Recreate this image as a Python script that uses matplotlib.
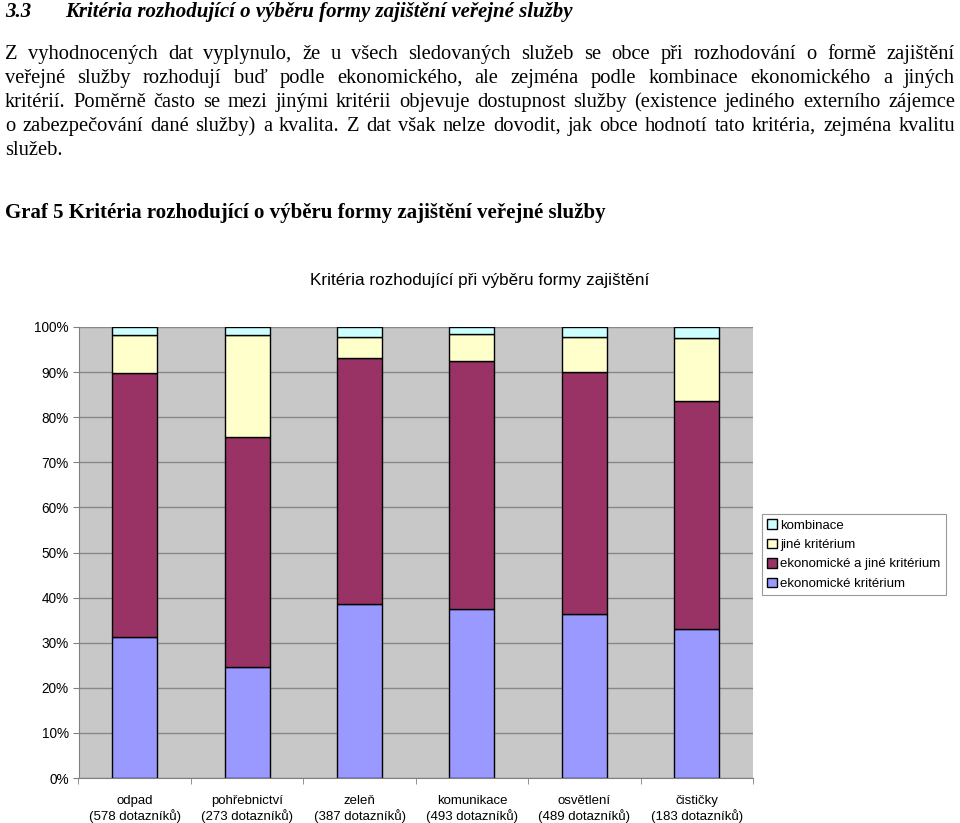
import matplotlib
matplotlib.use("Agg")
import matplotlib.pyplot as plt
import numpy as np

categories = ["odpad\n(578 dotazníků)", "pohřebnictví\n(273 dotazníků)", "zeleň\n(387 dotazníků)",
              "komunikace\n(493 dotazníků)", "osvětlení\n(489 dotazníků)", "čističky\n(183 dotazníků)"]
ekonomicke = [31.3, 24.6, 38.6, 37.5, 36.3, 33.0]
ekon_a_jine = [58.5, 51.1, 54.5, 55.0, 53.7, 50.6]
jine = [8.4, 22.5, 4.7, 5.9, 7.7, 13.9]
kombinace = [1.8, 1.8, 2.2, 1.6, 2.3, 2.5]
series_names = ["ekonomické kritérium", "ekonomické a jiné kritérium", "jiné kritérium", "kombinace"]
colors = ["#9999FF", "#993366", "#FFFFCC", "#CCFFFF"]
yticks = [0, 10, 20, 30, 40, 50, 60, 70, 80, 90, 100]

W, H = 960, 823
fig = plt.figure(figsize=(W/100, H/100), dpi=100)

def fx(px):
    return px / W

def fy(py):
    return 1 - py / H

serif = "Liberation Serif"
sans = "Liberation Sans"

# Heading
fig.text(fx(5), fy(17), "3.3", family=serif, style="italic", weight="bold", fontsize=15, va="baseline")
fig.text(fx(65), fy(17), "Kritéria rozhodující o výběru formy zajištění veřejné služby",
         family=serif, style="italic", weight="bold", fontsize=15, va="baseline")

para = [
    "Z vyhodnocených dat vyplynulo, že u všech sledovaných služeb se obce při rozhodování o formě zajištění",
    "veřejné služby rozhodují buď podle ekonomického, ale zejména podle kombinace ekonomického a jiných",
    "kritérií. Poměrně často se mezi jinými kritérii objevuje dostupnost služby (existence jediného externího zájemce",
    "o zabezpečování dané služby) a kvalita. Z dat však nelze dovodit, jak obce hodnotí tato kritéria, zejména kvalitu",
    "služeb.",
]
baselines = [59, 83, 107, 131, 155]
renderer = fig.canvas.get_renderer()
left_px, right_px = 5, 955
psize = 14.8
for i, (line, by) in enumerate(zip(para, baselines)):
    words = line.split(" ")
    if i == len(para) - 1:
        fig.text(fx(left_px), fy(by), line, family=serif, fontsize=psize, va="baseline")
        continue
    size = psize
    while True:
        texts = [fig.text(0, fy(by), w, family=serif, fontsize=size, va="baseline") for w in words]
        widths = [t.get_window_extent(renderer).width for t in texts]
        gap = (right_px - left_px - sum(widths)) / (len(words) - 1)
        if gap >= 0.22 * size * 100 / 72 or size < 10:
            break
        for t in texts:
            t.remove()
        size -= 0.2
    x = left_px
    for t, w in zip(texts, widths):
        t.set_x(fx(x))
        x += w + gap

fig.text(fx(5), fy(218), "Graf 5 Kritéria rozhodující o výběru formy zajištění veřejné služby",
         family=serif, weight="bold", fontsize=15, va="baseline")

fig.text(fx(480), fy(280), "Kritéria rozhodující při výběru formy zajištění", family=sans,
         fontsize=12.3, ha="center", va="center")

# Axes
ax_left, ax_right, ax_top, ax_bottom = 78.5, 753, 327, 778
ax = fig.add_axes([fx(ax_left), fy(ax_bottom), fx(ax_right - ax_left), (ax_bottom - ax_top) / H])
ax.set_facecolor("#C8C8C8")
x = np.arange(len(categories))
bottom = np.zeros(len(categories))
handles = []
for vals, c, name in zip([ekonomicke, ekon_a_jine, jine, kombinace], colors, series_names):
    b = ax.bar(x, vals, width=0.4, bottom=bottom, color=c, edgecolor="black", linewidth=1.0,
               label=name, zorder=3)
    handles.append(b)
    bottom = bottom + np.array(vals)

ax.set_xlim(-0.5, len(categories) - 0.5)
ax.set_ylim(0, 100)
ax.set_yticks(yticks)
ax.set_yticklabels([f"{v}%" for v in yticks], family=sans, fontsize=9.8)
ax.yaxis.grid(True, color="#888888", linewidth=1.0, zorder=0)
ax.set_axisbelow(True)
ax.set_xticks(x)
ax.set_xticklabels(categories, family=sans, fontsize=9.5, linespacing=1.25)
ax.tick_params(axis="x", length=0, pad=12)
ax.set_xticks(np.arange(len(categories) + 1) - 0.5, minor=True)
ax.tick_params(axis="x", which="minor", length=4, color="#808080")
ax.tick_params(axis="y", length=4, color="#808080", pad=3)
for s in ["top", "right"]:
    ax.spines[s].set_visible(False)
ax.spines["left"].set_color("#808080")
ax.spines["bottom"].set_color("#808080")

leg = fig.legend(handles[::-1], series_names[::-1], loc="upper left",
                 bbox_to_anchor=(fx(762), fy(514)), prop={"family": sans, "size": 9.5},
                 frameon=True, fancybox=False, edgecolor="#808080", handlelength=0.7,
                 handleheight=0.7, handletextpad=0.3, borderpad=0.4, labelspacing=0.55,
                 borderaxespad=0)
leg.get_frame().set_linewidth(0.8)

fig.savefig("out.png", dpi=100, facecolor="white")
